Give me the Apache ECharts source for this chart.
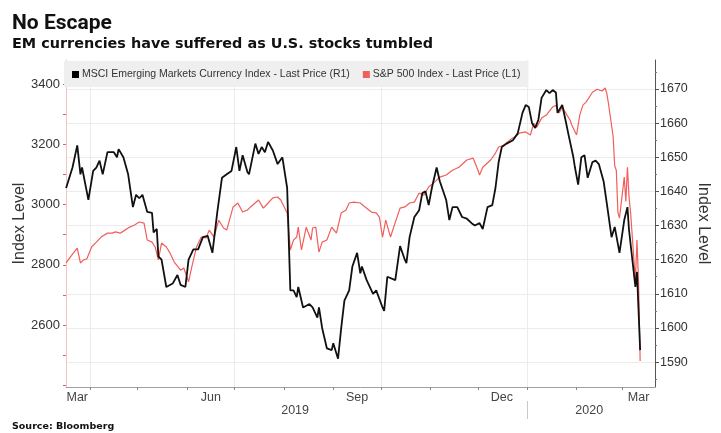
<!DOCTYPE html>
<html><head><meta charset="utf-8">
<script src="https://cdn.jsdelivr.net/npm/echarts@6/dist/echarts.min.js"></script>
<style>html,body{margin:0;padding:0;background:#fff}#c{width:721px;height:433px}</style>
</head><body><div id="c"></div>
<script>
// MSCI Emerging Markets Currency Index (right axis, R1)
const emDates = ['2019-03-17','2019-03-21','2019-03-24','2019-03-26','2019-03-27','2019-03-31','2019-04-03','2019-04-05','2019-04-07','2019-04-09','2019-04-12','2019-04-16','2019-04-18','2019-04-19','2019-04-22','2019-04-25','2019-04-28','2019-04-30','2019-05-02','2019-05-04','2019-05-07','2019-05-10','2019-05-11','2019-05-13','2019-05-14','2019-05-16','2019-05-19','2019-05-23','2019-05-26','2019-05-28','2019-05-31','2019-06-02','2019-06-05','2019-06-08','2019-06-11','2019-06-14','2019-06-17','2019-06-20','2019-06-23','2019-06-26','2019-06-29','2019-07-02','2019-07-04','2019-07-06','2019-07-09','2019-07-10','2019-07-14','2019-07-16','2019-07-18','2019-07-20','2019-07-22','2019-07-25','2019-07-28','2019-07-31','2019-08-03','2019-08-05','2019-08-07','2019-08-09','2019-08-10','2019-08-13','2019-08-17','2019-08-19','2019-08-22','2019-08-23','2019-08-25','2019-08-28','2019-08-31','2019-09-01','2019-09-04','2019-09-06','2019-09-08','2019-09-11','2019-09-13','2019-09-16','2019-09-18','2019-09-19','2019-09-22','2019-09-26','2019-09-28','2019-10-02','2019-10-03','2019-10-05','2019-10-10','2019-10-13','2019-10-16','2019-10-17','2019-10-19','2019-10-22','2019-10-25','2019-10-27','2019-10-29','2019-10-31','2019-11-02','2019-11-05','2019-11-07','2019-11-11','2019-11-13','2019-11-15','2019-11-18','2019-11-21','2019-11-24','2019-11-27','2019-11-29','2019-12-02','2019-12-04','2019-12-07','2019-12-10','2019-12-12','2019-12-14','2019-12-16','2019-12-19','2019-12-23','2019-12-26','2019-12-29','2019-12-31','2020-01-02','2020-01-04','2020-01-06','2020-01-08','2020-01-10','2020-01-13','2020-01-15','2020-01-17','2020-01-19','2020-01-20','2020-01-23','2020-01-25','2020-01-27','2020-01-30','2020-01-31','2020-02-02','2020-02-04','2020-02-06','2020-02-08','2020-02-11','2020-02-13','2020-02-15','2020-02-18','2020-02-20','2020-02-23','2020-02-25','2020-02-28','2020-03-02','2020-03-04','2020-03-05','2020-03-09','2020-03-10','2020-03-12'];
const emValues = [1641,1647,1653.5,1645,1647,1637.5,1646,1647,1649,1645,1651.5,1651.5,1650,1652.4,1650,1645,1635.4,1639,1638,1639,1634,1633.7,1628,1629,1621,1620,1612,1613,1615.5,1612.6,1612,1620,1623,1623,1626.6,1627,1622,1633.7,1644,1645,1646,1653,1646,1650.6,1645.7,1645,1654,1651,1653,1651.5,1654.5,1652,1648,1650,1641,1611,1611,1609,1612,1606,1607,1606,1603,1606,1600,1594,1593.5,1595.5,1591,1600,1608,1611,1618,1622,1616,1618,1614,1610,1611,1606,1605,1615,1614,1624,1620,1619,1626.6,1632.5,1634.5,1639.5,1640,1636,1641,1647,1643,1637.5,1631.6,1635.4,1635.4,1632.5,1632,1630.7,1630,1630.7,1629,1635.4,1636,1641,1648.6,1653,1654,1655,1657,1663,1665.3,1664.7,1660,1658.6,1661,1667.4,1669.7,1668.8,1669.7,1669,1663,1665.3,1661,1656.5,1650,1647,1642,1650,1650.6,1644,1648.6,1649,1648,1643,1636.6,1626.6,1629.6,1622,1631.6,1635.4,1628.7,1612,1616.4,1593.5];

// S&P 500 Index (left axis, L1)
const spDates = ['2019-03-17','2019-03-21','2019-03-24','2019-03-26','2019-03-28','2019-03-30','2019-04-02','2019-04-05','2019-04-08','2019-04-12','2019-04-15','2019-04-17','2019-04-20','2019-04-23','2019-04-26','2019-04-29','2019-05-02','2019-05-05','2019-05-07','2019-05-10','2019-05-12','2019-05-14','2019-05-16','2019-05-19','2019-05-21','2019-05-24','2019-05-28','2019-05-30','2019-06-02','2019-06-04','2019-06-07','2019-06-10','2019-06-13','2019-06-15','2019-06-18','2019-06-21','2019-06-24','2019-06-26','2019-06-30','2019-07-03','2019-07-06','2019-07-09','2019-07-11','2019-07-16','2019-07-19','2019-07-22','2019-07-25','2019-07-28','2019-07-30','2019-08-03','2019-08-05','2019-08-07','2019-08-09','2019-08-10','2019-08-12','2019-08-15','2019-08-18','2019-08-19','2019-08-21','2019-08-23','2019-08-25','2019-08-28','2019-08-31','2019-09-03','2019-09-06','2019-09-09','2019-09-11','2019-09-14','2019-09-18','2019-09-21','2019-09-25','2019-09-28','2019-09-30','2019-10-02','2019-10-04','2019-10-07','2019-10-09','2019-10-13','2019-10-16','2019-10-19','2019-10-22','2019-10-25','2019-10-28','2019-10-31','2019-11-03','2019-11-07','2019-11-11','2019-11-15','2019-11-19','2019-11-24','2019-11-28','2019-12-01','2019-12-02','2019-12-04','2019-12-09','2019-12-12','2019-12-14','2019-12-17','2019-12-21','2019-12-24','2019-12-27','2019-12-31','2020-01-03','2020-01-05','2020-01-07','2020-01-10','2020-01-13','2020-01-17','2020-01-19','2020-01-21','2020-01-23','2020-01-26','2020-01-28','2020-01-29','2020-02-01','2020-02-03','2020-02-05','2020-02-07','2020-02-11','2020-02-14','2020-02-17','2020-02-19','2020-02-20','2020-02-21','2020-02-24','2020-02-25','2020-02-26','2020-02-27','2020-02-28','2020-03-02','2020-03-03','2020-03-04','2020-03-05','2020-03-06','2020-03-09','2020-03-10','2020-03-11','2020-03-12'];
const spValues = [2806,2835,2855,2806,2816,2819,2859,2875,2892,2905,2905,2909,2905,2915,2925,2932,2942,2938,2882,2875,2859,2816,2872,2859,2842,2809,2782,2789,2743,2792,2859,2892,2889,2915,2892,2948,2922,2915,2992,3005,2975,2982,2992,3015,2988,3005,3022,3025,3015,2972,2849,2882,2892,2925,2849,2925,2882,2922,2925,2842,2875,2882,2925,2905,2972,2982,3005,3008,3005,2992,2975,2972,2958,2892,2948,2892,2925,2988,2992,3005,3008,3038,3031,3058,3071,3091,3098,3114,3124,3148,3154,3114,3098,3124,3148,3171,3191,3197,3214,3224,3237,3241,3231,3270,3257,3287,3297,3324,3330,3304,3324,3297,3280,3264,3231,3297,3330,3340,3373,3383,3377,3387,3370,3338,3226,3128,3114,2975,2955,3091,3010,3124,3025,2972,2748,2882,2741,2480];

// Axis ticks and labels
const leftLabelValues = [2600, 2800, 3000, 3200, 3400];
const leftTickValues = [2400, 2500, 2600, 2700, 2800, 2900, 3000, 3100, 3200, 3300, 3400];
const rightLabelValues = [1590, 1600, 1610, 1620, 1630, 1640, 1650, 1660, 1670];
const rightMinorTickValues = [1585, 1595, 1605, 1615, 1625, 1635, 1645, 1655, 1665, 1675];
const monthTickDates = ['2019-04-01','2019-05-01','2019-06-01','2019-07-01','2019-08-01','2019-09-01','2019-10-01','2019-11-01','2019-12-01','2020-01-01','2020-02-01','2020-03-01'];
const monthLabelDates = ['2019-03-24','2019-06-16','2019-09-16','2019-12-16','2020-03-11'];
const monthLabelNames = ['Mar','Jun','Sep','Dec','Mar'];
const yearLabelDates = ['2019-08-08','2020-02-09'];
const yearLabelNames = ['2019','2020'];
const yearBreakDates = ['2020-01-01'];
const gridLineDates = ['2019-04-01','2019-07-01','2019-10-01','2020-01-01'];

const ms = s => Date.parse(s + 'T00:00:00Z');
const xMin = Date.UTC(2019, 2, 16, 22);
const xMax = Date.UTC(2020, 2, 21, 8);
const lookup = (dates, names) => { const m = {}; dates.forEach((d, i) => { m[ms(d)] = names[i]; }); return v => (m[v] !== undefined ? m[v] : ''); };
const monthName = lookup(monthLabelDates, monthLabelNames);
const yearName = lookup(yearLabelDates, yearLabelNames);
const plain = v => String(v);

const FONT = 'Liberation Sans';
const chart = echarts.init(document.getElementById('c'), null, { renderer: 'canvas' });
const baseX = { type: 'value', min: xMin, max: xMax, gridIndex: 0, position: 'bottom', splitLine: { show: false } };
chart.setOption({
  animation: false,
  backgroundColor: '#ffffff',
  title: [
    { text: 'No Escape', left: 12, top: 13, padding: 0, textStyle: { fontFamily: 'Roboto', fontWeight: 'bold', fontSize: 21, color: '#111' } },
    { text: 'EM currencies have suffered as U.S. stocks tumbled', left: 12, top: 37, padding: 0, textStyle: { fontFamily: 'DejaVu Sans', fontWeight: 'bold', fontSize: 14.4, color: '#111' } },
    { text: 'Source: Bloomberg', left: 12, top: 422, padding: 0, textStyle: { fontFamily: 'DejaVu Sans', fontWeight: 'bold', fontSize: 9.5, color: '#111' } }
  ],
  legend: {
    left: 64, top: 61, padding: [8, 8, 7, 8], backgroundColor: '#efefef',
    icon: 'rect', itemWidth: 7, itemHeight: 7, itemGap: 13,
    data: ['MSCI Emerging Markets Currency Index - Last Price (R1)', 'S&P 500 Index - Last Price (L1)'],
    textStyle: { fontFamily: FONT, fontSize: 10.5, color: '#333', padding: [0, 0, 0, -2] }
  },
  grid: { left: 66, right: 66, top: 60, bottom: 46, containLabel: false, outerBoundsMode: 'none' },
  xAxis: [
    Object.assign({}, baseX, {
      axisLine: { show: true, lineStyle: { color: '#a0a0a0', width: 1 } },
      axisTick: { show: true, length: 3, lineStyle: { color: '#888' }, customValues: monthTickDates.map(ms) },
      axisLabel: { show: true, margin: 4, fontFamily: FONT, fontSize: 12.5, color: '#444', customValues: monthLabelDates.map(ms), formatter: monthName }
    }),
    Object.assign({}, baseX, {
      offset: 14,
      axisLine: { show: false },
      axisTick: { show: true, length: 18, lineStyle: { color: '#c8c8c8' }, customValues: yearBreakDates.map(ms) },
      axisLabel: { show: true, margin: 3, fontFamily: FONT, fontSize: 12.5, color: '#444', customValues: yearLabelDates.map(ms), formatter: yearName }
    }),
    Object.assign({}, baseX, {
      axisLine: { show: false },
      axisTick: { show: false, customValues: gridLineDates.map(ms) },
      axisLabel: { show: false, customValues: gridLineDates.map(ms) },
      splitLine: { show: true, lineStyle: { color: '#ececec', width: 1 } }
    })
  ],
  yAxis: [
    {
      type: 'value', position: 'left', min: 2394, max: 3480,
      name: 'Index Level', nameLocation: 'middle', nameGap: 38, nameRotate: 90, nameMoveOverlap: false,
      nameTextStyle: { fontFamily: FONT, fontSize: 16, color: '#333' },
      axisLine: { show: true, lineStyle: { color: '#f6c4c4' } },
      axisTick: { show: true, length: 3, lineStyle: { color: '#e8605d' }, customValues: leftTickValues },
      axisLabel: { margin: 6, fontFamily: FONT, fontSize: 13, color: '#333', customValues: leftLabelValues, formatter: plain },
      splitLine: { show: false }
    },
    {
      type: 'value', position: 'right', min: 1582.7, max: 1678.5,
      name: 'Index Level', nameLocation: 'middle', nameGap: 40, nameRotate: -90, nameMoveOverlap: false,
      nameTextStyle: { fontFamily: FONT, fontSize: 16, color: '#333' },
      axisLine: { show: true, lineStyle: { color: '#555', width: 1 } },
      axisTick: { show: true, length: 4, lineStyle: { color: '#555' }, customValues: rightLabelValues },
      axisLabel: { margin: 5, fontFamily: FONT, fontSize: 12.5, color: '#333', customValues: rightLabelValues, formatter: plain },
      splitLine: { show: true, lineStyle: { color: '#ececec', width: 1 } }
    },
    {
      type: 'value', position: 'right', min: 1582.7, max: 1678.5,
      axisLine: { show: false },
      axisTick: { show: true, length: 2, lineStyle: { color: '#777' }, customValues: rightMinorTickValues },
      axisLabel: { show: false, customValues: rightMinorTickValues },
      splitLine: { show: false }
    }
  ],
  series: [
    {
      name: 'S&P 500 Index - Last Price (L1)', type: 'line', xAxisIndex: 0, yAxisIndex: 0,
      symbol: 'none', color: '#f05f5b', lineStyle: { width: 1.2, color: '#f05f5b' },
      data: spDates.map((d, i) => [ms(d), spValues[i]])
    },
    {
      name: 'MSCI Emerging Markets Currency Index - Last Price (R1)', type: 'line', xAxisIndex: 0, yAxisIndex: 1,
      symbol: 'none', color: '#000000', lineStyle: { width: 1.8, color: '#111' },
      data: emDates.map((d, i) => [ms(d), emValues[i]])
    }
  ]
});
</script></body></html>
